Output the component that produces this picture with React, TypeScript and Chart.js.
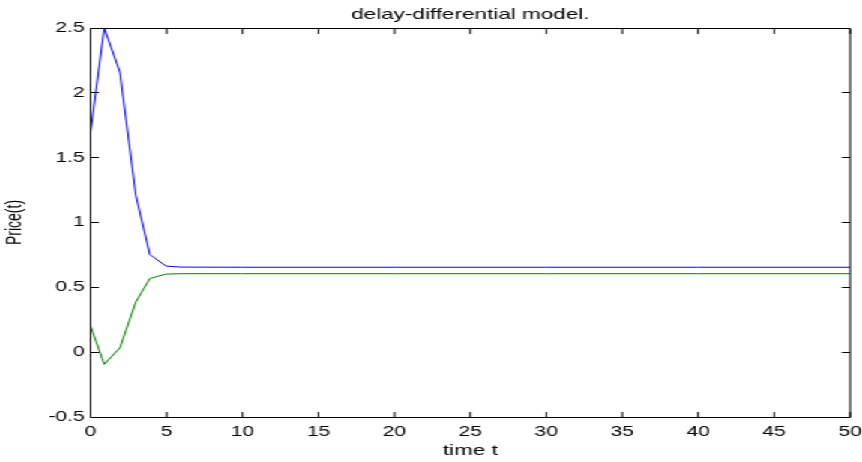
import React, { useEffect, useRef } from "react";
import { Chart, registerables } from "chart.js";

Chart.register(...registerables);

// ---- data ----
const timeT = [0, 0.9, 1.93, 2.98, 3.9, 4.96, 5.95, 10, 20, 30, 40, 50];
const priceBlue = [1.7, 2.5, 2.16, 1.21, 0.753, 0.664, 0.656, 0.655, 0.655, 0.655, 0.655, 0.655];
const priceGreen = [0.2, -0.094, 0.033, 0.387, 0.568, 0.602, 0.605, 0.605, 0.605, 0.605, 0.605, 0.605];

const titleText = "delay-differential model.";
const xLabel = "time t";
const yLabel = "Price(t)";
const xMin = 0;
const xMax = 50;
const xStep = 5;
const yMin = -0.5;
const yMax = 2.5;
const yStep = 0.5;

const FONT = "'Liberation Sans', Arial, Helvetica, sans-serif";
const INNER_W = 575;
const INNER_H = 462;
const SCALE_X = 862 / INNER_W;
const TICK_LEN = 5.5;

const boxTicks = {
  id: "boxTicks",
  afterDatasetsDraw(chart: any) {
    const { ctx, chartArea: a, scales } = chart;
    const top = Math.floor(a.top) + 0.5;
    const bottom = Math.floor(a.bottom) + 0.5;
    ctx.save();
    ctx.strokeStyle = "#000";
    ctx.lineWidth = 1;
    ctx.beginPath();
    ctx.moveTo(a.left, top);
    ctx.lineTo(a.right, top);
    ctx.lineTo(a.right, bottom);
    ctx.lineTo(a.left, bottom);
    ctx.closePath();
    scales.x.ticks.forEach((t: any) => {
      const px = scales.x.getPixelForValue(t.value);
      ctx.moveTo(px, bottom);
      ctx.lineTo(px, bottom - TICK_LEN);
      ctx.moveTo(px, top);
      ctx.lineTo(px, top + TICK_LEN);
    });
    scales.y.ticks.forEach((t: any) => {
      const py = Math.floor(scales.y.getPixelForValue(t.value)) + 0.5;
      ctx.moveTo(a.left, py);
      ctx.lineTo(a.left + TICK_LEN, py);
      ctx.moveTo(a.right, py);
      ctx.lineTo(a.right - TICK_LEN, py);
    });
    ctx.stroke();
    ctx.restore();
  },
};

export default function App() {
  const ref = useRef<HTMLCanvasElement | null>(null);

  useEffect(() => {
    if (!ref.current) return;
    const chart = new Chart(ref.current, {
      type: "line",
      data: {
        datasets: [
          {
            data: timeT.map((t, i) => ({ x: t, y: priceBlue[i] })),
            borderColor: "#0000ff",
            borderWidth: 1,
            pointRadius: 0,
            tension: 0,
            fill: false,
          },
          {
            data: timeT.map((t, i) => ({ x: t, y: priceGreen[i] })),
            borderColor: "#008000",
            borderWidth: 1,
            pointRadius: 0,
            tension: 0,
            fill: false,
          },
        ],
      },
      options: {
        animation: false,
        responsive: false,
        devicePixelRatio: 1,
        layout: { padding: { left: 0, right: 8, top: 0, bottom: 0 } },
        plugins: {
          legend: { display: false },
          tooltip: { enabled: false },
          title: {
            display: true,
            text: titleText,
            fullSize: false,
            color: "#000",
            font: { family: FONT, size: 15, weight: "normal", lineHeight: 1.2 },
            padding: { top: 5.8, bottom: 4.2 },
          },
        },
        scales: {
          x: {
            type: "linear",
            min: xMin,
            max: xMax,
            grid: { display: false, drawTicks: false },
            border: { display: false },
            ticks: {
              stepSize: xStep,
              color: "#000",
              font: { family: FONT, size: 14 },
              padding: 6.3,
              maxRotation: 0,
              autoSkip: false,
              callback: (v: any) => String(v),
            },
            title: {
              display: true,
              text: xLabel,
              color: "#000",
              font: { family: FONT, size: 15, lineHeight: 1.2 },
              padding: { top: 0, bottom: 2.4 },
            },
            afterFit: (s: any) => {
              s.height = 45;
              s.paddingLeft = 0;
              s.paddingRight = 0;
            },
          },
          y: {
            type: "linear",
            min: yMin,
            max: yMax,
            grid: { display: false, drawTicks: false },
            border: { display: false },
            ticks: {
              stepSize: yStep,
              color: "#000",
              font: { family: FONT, size: 14 },
              padding: 4,
              autoSkip: false,
              callback: (v: any) => String(v),
            },
            title: {
              display: true,
              text: yLabel,
              color: "#000",
              font: { family: FONT, size: 14, lineHeight: 1.2 },
              padding: { top: 1.8, bottom: 0 },
            },
            afterFit: (s: any) => {
              s.width = 60.5;
              s.paddingTop = 0;
              s.paddingBottom = 0;
            },
          },
        },
      } as any,
      plugins: [boxTicks],
    });
    return () => chart.destroy();
  }, []);

  return (
    <div
      style={{
        position: "absolute",
        left: 0,
        top: 0,
        width: INNER_W,
        height: INNER_H,
        transform: `scaleX(${SCALE_X})`,
        transformOrigin: "0 0",
        background: "#fff",
      }}
    >
      <canvas ref={ref} width={INNER_W} height={INNER_H} />
    </div>
  );
}
